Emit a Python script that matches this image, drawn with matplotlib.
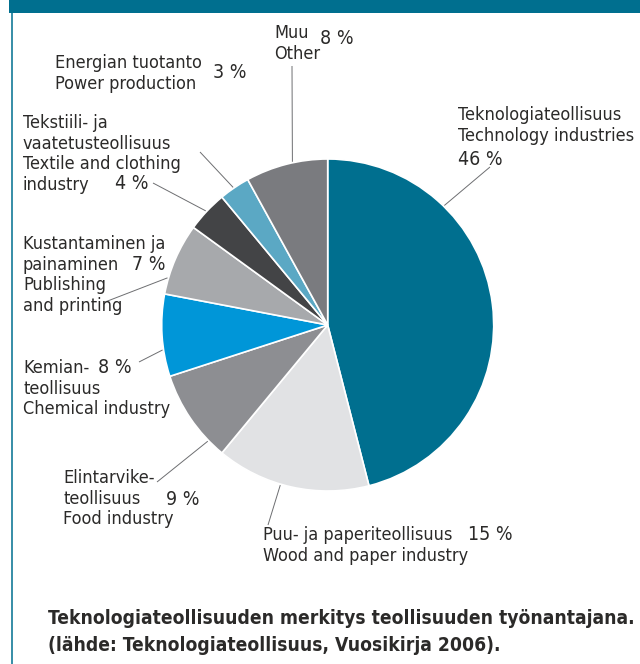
import matplotlib.pyplot as plt
from matplotlib.patches import Rectangle
import numpy as np

# data, clockwise from 12 o'clock
labels = [
    ['Teknologiateollisuus', 'Technology industries'],
    ['Puu- ja paperiteollisuus', 'Wood and paper industry'],
    ['Elintarvike-', 'teollisuus', 'Food industry'],
    ['Kemian-', 'teollisuus', 'Chemical industry'],
    ['Kustantaminen ja', 'painaminen', 'Publishing', 'and printing'],
    ['Tekstiili- ja', 'vaatetusteollisuus', 'Textile and clothing', 'industry'],
    ['Energian tuotanto', 'Power production'],
    ['Muu', 'Other'],
]
values = [46, 15, 9, 8, 7, 4, 3, 8]
colors = ['#006F8F', '#E1E2E4', '#8D8E92', '#0096D8',
          '#A7A9AC', '#434446', '#5BA8C4', '#7A7B7F']
caption = ['Teknologiateollisuuden merkitys teollisuuden työnantajana.',
           '(lähde: Teknologiateollisuus, Vuosikirja 2006).']

# layout in pixel coords (y measured from top)
W, H = 640, 664
cx, cy, R = 327.7, 325, 166
text_pos = [(458, 120), (263, 540), (63, 483), (23, 373),
            (23, 249), (23, 128), (55, 68), (274, 38)]
pct_pos = [(458, 165), (468, 540), (166, 505), (98, 373),
           (132, 270), (115, 189), (213, 78), (320, 44)]
lead_ang = [45.7, 253.5, 224.1, 188.6, 163.6, 136.9, 124.5, 102.2]
lead_end = [(490, 167), (268, 525), (157, 482), (139, 362),
            (105, 302), (153, 183), (200, 152), (292, 66)]
line_gap = 20.6

ink = '#2B2A29'
plt.rcParams['font.family'] = ['DejaVu Sans']
plt.rcParams['font.stretch'] = 'condensed'

fig = plt.figure(figsize=(W / 100, H / 100), dpi=100)
ax = fig.add_axes([0, 0, 1, 1])


def Y(py):
    return H - py


ax.pie(values, colors=colors, startangle=90, counterclock=False,
       center=(cx, Y(cy)), radius=R, frame=True,
       wedgeprops=dict(edgecolor='white', linewidth=1.2))

for i, lines in enumerate(labels):
    x0, b0 = text_pos[i]
    for j, s in enumerate(lines):
        ax.text(x0, Y(b0 + j * line_gap), s, fontsize=13, color=ink,
                ha='left', va='baseline')
    px, pb = pct_pos[i]
    ax.text(px, Y(pb), f'{values[i]} %', fontsize=14, color=ink,
            ha='left', va='baseline')
    a = np.deg2rad(lead_ang[i])
    sx, sy = cx + (R + 1) * np.cos(a), Y(cy) + (R + 1) * np.sin(a)
    ex, ey = lead_end[i]
    ax.plot([sx, ex], [sy, Y(ey)], color='#6D6E71', lw=0.7,
            solid_capstyle='butt')

for j, s in enumerate(caption):
    ax.text(48, Y(624 + j * 27), s, fontsize=13.8, fontweight='bold',
            color=ink, ha='left', va='baseline')

# frame: top band and left rule
ax.add_patch(Rectangle((9, Y(13)), W - 9, 13, facecolor='#006F8F',
                       edgecolor='none'))
ax.plot([11.5, 11.5], [0, Y(13)], color='#006F8F', lw=1.1)

ax.set_xlim(0, W)
ax.set_ylim(0, H)
ax.set_aspect('equal')
ax.axis('off')

fig.savefig('out.png', dpi=100)
